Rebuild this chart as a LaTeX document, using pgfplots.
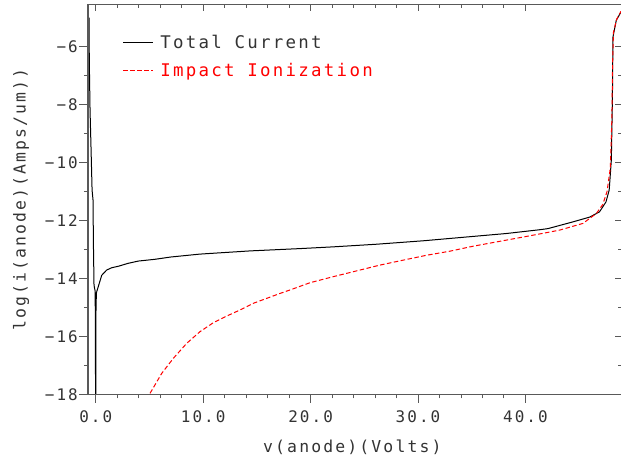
\documentclass[border=0pt]{standalone}
\usepackage{fontspec}
\usepackage{pgfplots}
\pgfplotsset{compat=1.18}
\newfontfamily\monofont{DejaVu Sans Mono}[LetterSpace=13]
\newcommand\tickfont{\monofont\fontsize{16}{18}\selectfont}
\newcommand\labfont{\monofont\fontsize{16.5}{18}\selectfont}
\newcommand\legfont{\monofont\fontsize{17.5}{20}\selectfont}
\definecolor{frame}{gray}{0.35}
\definecolor{txt}{gray}{0.2}

\begin{document}
\begin{tikzpicture}
\pgfplotsset{
  common/.style={
    at={(0,0)}, anchor=south west,
    scale only axis, width=533bp, height=389.3bp,
    xmin=-0.72, xmax=48.9, ymin=-18, ymax=-4.56,
    xtick={0,10,20,30,40}, ytick={-18,-16,-14,-12,-10,-8,-6},
    minor x tick num=4, minor y tick num=1,
    axis line style={frame, line width=1bp},
    every tick/.style={frame, line width=0.9bp},
  }
}
\begin{axis}[common,
    xtick pos=bottom, ytick pos=left, tick align=outside,
    major tick length=8.5bp, minor tick length=4bp,
    xticklabels={0.0,10.0,20.0,30.0,40.0},
    yticklabels={−18,−16,−14,−12,−10,−8,−6},
    xticklabel style={font=\tickfont, text=txt, anchor=north, inner sep=0pt, yshift=-8bp},
    yticklabel style={font=\tickfont, text=txt, anchor=east, inner sep=0pt, xshift=-1.5bp},
    xlabel={v(anode)(Volts)},
    ylabel={log(i(anode)(Amps/um))},
    xlabel style={font=\labfont, text=txt, at={(axis description cs:0.496,-0.136)}, anchor=center},
    ylabel style={font=\labfont, text=txt, at={(axis description cs:-0.1257,0.5)}, anchor=center},
    legend style={at={(axis description cs:0.065,0.927)}, anchor=north west,
      draw=none, fill=none, font=\legfont, inner sep=0pt, row sep=10bp,
      nodes={inner sep=1.5bp}},
    legend cell align=left,
    legend image code/.code={\draw[#1] (0bp,0bp) -- (30bp,0bp);},
  ]
% total anode current
\addplot[black, line width=1bp] coordinates {
  (-0.62,-5.0) (-0.60,-6.47) (-0.53,-8.19) (-0.44,-9.47) (-0.34,-10.95)
  (-0.25,-11.30) (-0.22,-12.68) (-0.16,-14.23) (-0.05,-14.45) (0.0,-19.5)
  (0.01,-19.5) (0.02,-15.2) (0.06,-14.5) (0.09,-14.46) (0.56,-13.89)
  (1.02,-13.71) (1.49,-13.63) (2.1,-13.58) (3.0,-13.48) (3.97,-13.40)
  (5.5,-13.34) (7.0,-13.26) (9.7,-13.16) (14.35,-13.05) (19.0,-12.97)
  (22.1,-12.91) (26.1,-12.82) (30.5,-12.70) (34.5,-12.57) (38.2,-12.45)
  (41.3,-12.32) (42.1,-12.28) (44.4,-12.05) (46.0,-11.88) (46.9,-11.70)
  (47.5,-11.36) (47.8,-10.95) (48.0,-9.92) (48.1,-7.85) (48.15,-5.67)
  (48.46,-5.09) (48.9,-4.8)
};
\addlegendentry{\hspace{5bp}\textcolor{txt}{Total Current}}
% impact ionization generation current
\addplot[red, line width=1bp, dash pattern=on 4.5bp off 2.5bp] coordinates {
  (4.9,-18.2) (5.05,-17.97) (6.14,-17.28) (7.22,-16.76) (8.47,-16.24)
  (9.70,-15.84) (10.94,-15.53) (12.19,-15.30) (13.42,-15.09) (14.66,-14.86)
  (15.9,-14.69) (17.14,-14.52) (18.07,-14.40) (19.93,-14.15) (22.1,-13.94)
  (24.28,-13.74) (26.45,-13.54) (28.6,-13.37) (30.8,-13.20) (32.96,-13.06)
  (35.1,-12.89) (37.3,-12.74) (39.8,-12.57) (42.1,-12.41) (43.2,-12.33)
  (45.36,-12.10) (46.6,-11.76) (47.2,-11.45) (47.6,-11.0) (47.9,-10.2)
  (48.05,-8.5) (48.12,-6.5) (48.2,-5.5) (48.5,-5.05) (48.9,-4.78)
};
\addlegendentry{\hspace{5bp}\textcolor{red}{Impact Ionization}}
\end{axis}
% inward ticks on the top and right edges
\begin{axis}[common,
    xtick pos=top, ytick pos=right, tick align=inside,
    major tick length=6.5bp, minor tick length=3.5bp,
    xticklabels={}, yticklabels={},
  ]
\end{axis}
\pgfresetboundingbox
\path (-88bp,-61.7bp) rectangle (533bp,394.3bp);
\end{tikzpicture}
\end{document}
